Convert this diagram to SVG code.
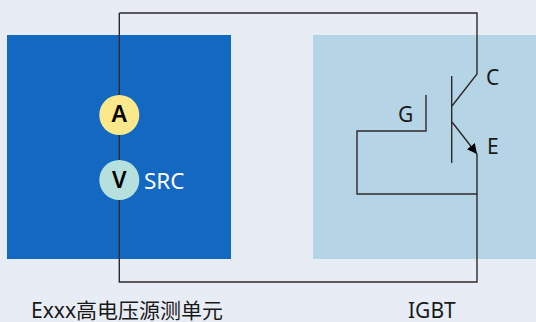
<svg xmlns="http://www.w3.org/2000/svg" width="536" height="322" viewBox="0 0 536 322">
<style>
text{font-family:"Noto Sans","Noto Sans CJK SC",sans-serif;font-size:21px;fill:#1a1a1a}
.w{fill:none;stroke:#2e2a2a;stroke-width:1.4}
.b{font-weight:600;font-size:23px;fill:#000;text-anchor:middle}
</style>
<defs><marker id="arr" markerUnits="userSpaceOnUse" markerWidth="12" markerHeight="12" refX="10" refY="5" orient="auto"><path d="M0 0L10 5L0 10Z" fill="#000"/></marker></defs>
<rect width="536" height="322" fill="#e8edf5"/>
<g id="source"><rect x="7" y="35" width="224" height="224" fill="#1368c2"/></g>
<g id="igbt-box"><rect x="313" y="35" width="223" height="224" fill="#b5d4e6"/></g>
<g id="connectors">
<path class="w" d="M119.3 13H477V74L452 106"/>
<path class="w" d="M119.3 13V282H477V154"/>
<path class="w" d="M451.7 76V163"/>
<path class="w" d="M426 95V131H357V194H477"/>
<path class="w" d="M452 122L477 154" marker-end="url(#arr)"/>
</g>
<g id="ammeter"><circle cx="119.3" cy="115" r="20" fill="#fbe88a"/><text class="b" x="119.3" y="121.500">A</text></g>
<g id="voltmeter"><circle cx="119.3" cy="180" r="20" fill="#b5e0de"/><text class="b" x="119.3" y="188">V</text></g>
<g id="labels">
<text x="144" y="188.500" style="fill:#fff;font-size:22.500px">SRC</text>
<text x="398" y="122">G</text>
<text x="486" y="84.500">C</text>
<text x="487" y="153.500">E</text>
<text x="31" y="317.500">Exxx高电压源测单元</text>
<text x="408" y="317.500">IGBT</text>
</g>
</svg>
